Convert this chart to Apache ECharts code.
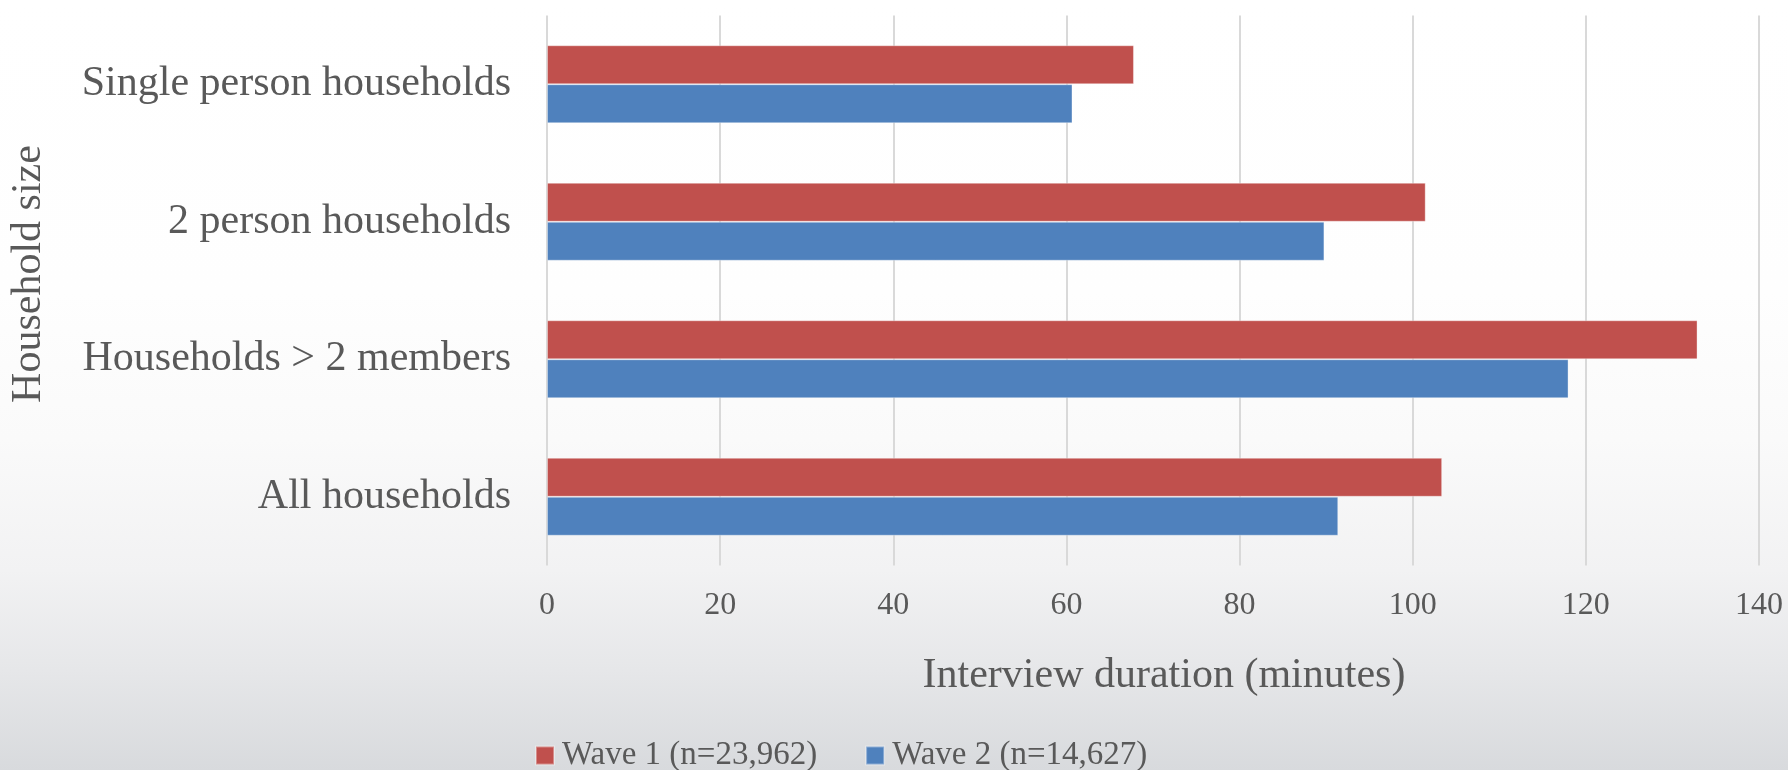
<!DOCTYPE html>
<html>
<head>
<meta charset="utf-8">
<script src="https://cdn.jsdelivr.net/npm/echarts@6/dist/echarts.min.js"></script>
<style>
  html, body { margin: 0; padding: 0; }
  #chart {
    width: 1788px; height: 770px;
    background: linear-gradient(to bottom, #ffffff 0%, #fefefe 38%, #fafafa 57%, #f2f2f3 74%, #e6e7e9 87%, #d8dadd 100%);
  }
</style>
</head>
<body>
<div id="chart"></div>
<script>
// Categories listed top to bottom as in the reference
const categories = ['Single person households', '2 person households', 'Households > 2 members', 'All households'];
const seriesNames = ['Wave 1 (n=23,962)', 'Wave 2 (n=14,627)'];
const wave1 = [67.8, 101.5, 132.9, 103.4];
const wave2 = [60.7, 89.8, 118.0, 91.4];
const xTicks = { min: 0, max: 140, interval: 20 };
const xTitle = 'Interview duration (minutes)';
const yTitle = 'Household size';

const FONT = '"Liberation Serif", "DejaVu Serif", serif';
const TXT = '#595959';

const chart = echarts.init(document.getElementById('chart'), null, { renderer: 'canvas' });
chart.setOption({
  backgroundColor: 'transparent',
  animation: false,
  textStyle: { fontFamily: FONT, color: TXT },
  grid: { left: 544, right: 29, top: 15.5, bottom: 204.5, containLabel: false },
  legend: {
    data: seriesNames,
    left: 530, top: 734,
    itemWidth: 18, itemHeight: 18, itemGap: 48,
    icon: 'rect',
    textStyle: { fontFamily: FONT, fontSize: 33, color: TXT, padding: [0, 0, 0, 3] }
  },
  xAxis: {
    type: 'value',
    min: xTicks.min, max: xTicks.max, interval: xTicks.interval,
    axisLine: { show: false }, axisTick: { show: false },
    splitLine: { show: true, lineStyle: { color: '#d9d9d9', width: 2 } },
    axisLabel: { fontFamily: FONT, fontSize: 32, color: TXT, margin: 24 },
    name: xTitle, nameLocation: 'middle', nameGap: 89,
    nameTextStyle: { fontFamily: FONT, fontSize: 42, color: TXT, padding: [0, 0, 0, 22] }
  },
  yAxis: {
    type: 'category',
    inverse: true,
    data: categories,
    axisLine: { show: false }, axisTick: { show: false },
    axisLabel: { fontFamily: FONT, fontSize: 42, color: TXT, margin: 36 },
    name: yTitle, nameLocation: 'middle', nameGap: 497, nameRotate: 90,
    nameTextStyle: { fontFamily: FONT, fontSize: 42, color: TXT, padding: [0, 0, 0, 33] }
  },
  series: [
    {
      name: seriesNames[0], type: 'bar', data: wave1,
      barGap: '0%', barCategoryGap: '43.3%',
      itemStyle: { color: '#C0504D', borderColor: 'rgba(255,255,255,0.35)', borderWidth: 1 }
    },
    {
      name: seriesNames[1], type: 'bar', data: wave2,
      barGap: '0%', barCategoryGap: '43.3%',
      itemStyle: { color: '#4F81BD', borderColor: 'rgba(255,255,255,0.35)', borderWidth: 1 }
    }
  ]
});
</script>
</body>
</html>
